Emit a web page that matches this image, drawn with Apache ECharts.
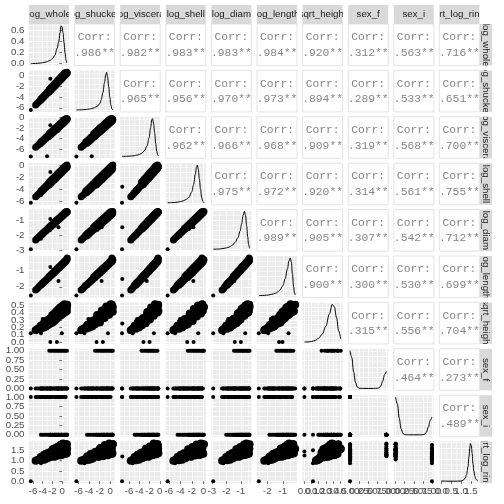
<!DOCTYPE html>
<html><head><meta charset="utf-8">
<script src="https://cdn.jsdelivr.net/npm/echarts@6/dist/echarts.min.js"></script>
<style>html,body{margin:0;padding:0;background:#fff}#c{width:504px;height:504px}</style>
</head><body><div id="c"></div>
<script>
// ---------- variable names ----------
const varNames = ['log_whole','log_shucked','log_viscera','log_shell','log_diam','log_length','sqrt_height','sex_f','sex_i','sqrt_log_rings'];

// ---------- representative observations (core band) ----------
const coreWhole = [-5.45,-5.1,-4.75,-4.4,-4.4,-4.05,-4.05,-3.7,-3.7,-3.35,-3.35,-3.0,-3.0,
 -2.65,-2.65,-2.65,-2.3,-2.3,-2.3,-1.95,-1.95,-1.95,-1.6,-1.6,-1.6,-1.3,-1.3,-1.3,-1.0,-1.0,-1.0,
 -0.7,-0.7,-0.7,-0.4,-0.4,-0.4,-0.1,-0.1,-0.1,0.2,0.2,0.2,0.5,0.5,0.5,0.75,0.75,0.75,1.0,1.0,1.05];
const coreShucked = [-5.50,-5.17,-4.85,-4.64,-4.40,-4.31,-4.07,-3.98,-3.74,-3.66,-3.42,-3.33,-3.09,
 -3.13,-2.63,-2.88,-2.80,-2.30,-2.55,-2.48,-1.98,-2.23,-2.15,-1.65,-1.90,-1.87,-1.37,-1.62,-1.59,-1.09,-1.34,
 -1.31,-0.81,-1.06,-1.02,-0.52,-0.77,-0.74,-0.24,-0.49,-0.46,0.04,-0.21,-0.18,0.32,0.07,0.05,0.45,0.30,0.40,0.47,0.30];
const coreViscera = [-5.68,-5.38,-5.09,-4.68,-4.92,-4.38,-4.62,-4.09,-4.33,-3.79,-4.03,-3.50,-3.74,
 -3.08,-3.33,-3.58,-2.78,-3.03,-3.28,-2.49,-2.74,-2.99,-2.19,-2.44,-2.69,-1.94,-2.19,-2.44,-1.69,-1.94,-2.19,
 -1.44,-1.69,-1.94,-1.19,-1.44,-1.69,-0.93,-1.18,-1.43,-0.68,-0.93,-1.18,-0.43,-0.68,-0.93,-0.30,-0.47,-0.72,-0.27,-0.45,-0.35];
const coreShell = [-5.20,-4.92,-4.64,-4.24,-4.48,-3.96,-4.20,-3.68,-3.92,-3.40,-3.64,-3.12,-3.36,
 -2.96,-3.21,-2.71,-2.68,-2.93,-2.43,-2.40,-2.65,-2.15,-2.12,-2.37,-1.87,-1.88,-2.13,-1.63,-1.64,-1.89,-1.39,
 -1.40,-1.65,-1.15,-1.16,-1.41,-0.91,-0.92,-1.17,-0.67,-0.68,-0.93,-0.43,-0.44,-0.69,-0.19,-0.24,-0.49,-0.02,-0.10,0.10,-0.25];
const coreDiam = [-2.29,-2.18,-2.08,-1.95,-2.01,-1.85,-1.91,-1.74,-1.80,-1.64,-1.70,-1.54,-1.60,
 -1.42,-1.52,-1.47,-1.31,-1.41,-1.36,-1.21,-1.31,-1.26,-1.11,-1.21,-1.16,-1.02,-1.12,-1.07,-0.93,-1.03,-0.98,
 -0.85,-0.95,-0.90,-0.76,-0.86,-0.81,-0.67,-0.77,-0.72,-0.58,-0.68,-0.63,-0.49,-0.59,-0.54,-0.42,-0.52,-0.47,-0.45,-0.40,-0.43];
const coreLength = [-2.20,-2.10,-1.98,-1.91,-1.87,-1.81,-1.77,-1.71,-1.67,-1.61,-1.57,-1.51,-1.47,
 -1.38,-1.34,-1.42,-1.28,-1.24,-1.32,-1.18,-1.14,-1.22,-1.08,-1.04,-1.12,-0.99,-0.95,-1.03,-0.90,-0.86,-0.94,
 -0.81,-0.77,-0.85,-0.73,-0.69,-0.77,-0.64,-0.60,-0.68,-0.55,-0.51,-0.59,-0.46,-0.42,-0.50,-0.39,-0.35,-0.43,-0.28,-0.32,-0.20];
const coreHeight = [0.16,0.175,0.19,0.18,0.22,0.235,0.195,0.195,0.265,0.28,0.21,0.225,0.295,
 0.275,0.31,0.24,0.255,0.29,0.325,0.365,0.265,0.315,0.335,0.385,0.285,0.305,0.355,0.405,0.425,0.325,0.375,
 0.395,0.445,0.345,0.355,0.41,0.465,0.48,0.37,0.425,0.44,0.495,0.385,0.40,0.455,0.51,0.50,0.41,0.465,0.42,0.475,0.505];
const coreSexF = [0,0,0,0,0,0,0,0,0,0,0,0,0,
 0,0,1,0,0,1,0,0,1,0,0,1,0,0,1,0,0,1,0,0,1,0,0,1,0,0,1,0,0,1,0,0,1,0,0,1,0,1,0];
const coreSexI = [1,1,1,1,0,1,0,1,0,1,0,1,0,
 1,0,0,1,0,0,1,0,0,1,0,0,1,0,0,1,0,0,1,0,0,1,0,0,1,0,0,1,0,0,1,0,0,1,0,0,0,0,0];
const coreRings = [1.00,1.03,1.07,1.02,1.18,1.22,1.06,1.05,1.29,1.33,1.09,1.12,1.36,
 1.16,1.28,1.40,1.43,1.19,1.31,1.35,1.55,1.22,1.19,1.39,1.59,1.62,1.22,1.42,1.46,1.66,1.26,
 1.29,1.49,1.69,1.76,1.26,1.51,1.53,1.78,1.28,1.31,1.56,1.835,1.74,1.33,1.58,1.59,1.80,1.34,1.36,1.80,1.58];

// ---------- isolated observations ----------
const outWhole   = [-6.45,-4.35,-3.1,-2.42,-2.42,-1.07,-0.05,-4.0,-0.74];
const outShucked = [-6.4,-4.9,-3.5,-0.7,-2.6,-1.4,-0.45,-4.15,-1.64];
const outViscera = [-7.4,-5.3,-7.35,-1.5,-3.2,-2.0,-1.15,-4.45,-2.55];
const outShell   = [-6.2,-4.9,-3.5,-1.05,-2.8,-1.7,-0.9,-4.05,-1.75];
const outDiam    = [-2.9,-2.2,-1.45,-0.9,-1.42,-1.0,-0.7,-1.87,-1.45];
const outLength  = [-2.55,-1.95,-1.52,-0.76,-1.24,-1.02,-0.63,-1.78,-1.64];
const outHeight  = [0.12,0.12,0.25,0.38,0,0,0.12,0.31,0.33];
const outSexF    = [0,0,0,0,0,0,0,0,0];
const outSexI    = [1,1,1,0,1,0,0,1,1];
const outRings   = [0,0.87,1.2,1.5,1.25,1.45,1.5,1.1,1.4];

// ---------- diagonal densities ----------
const densWholeX = [-6.45,-5.5,-5.0,-4.5,-4.0,-3.5,-3.0,-2.5,-2.0,-1.5,-1.0,-0.7,-0.4,-0.2,0.0,0.2,0.4,0.6,0.8,1.0,1.05];
const densWholeY = [0.002,0.005,0.008,0.012,0.018,0.027,0.04,0.06,0.09,0.15,0.28,0.40,0.56,0.68,0.66,0.55,0.38,0.2,0.07,0.015,0.01];
const densShuckedX = [-6.4,-5.5,-5.0,-4.5,-4.0,-3.5,-3.0,-2.5,-2.0,-1.7,-1.4,-1.1,-0.85,-0.7,-0.5,-0.3,-0.1,0.1,0.3,0.47];
const densShuckedY = [0.002,0.005,0.008,0.012,0.02,0.03,0.045,0.07,0.12,0.2,0.33,0.52,0.68,0.72,0.62,0.45,0.25,0.1,0.025,0.005];
const densVisceraX = [-7.4,-6.5,-5.5,-5.0,-4.5,-4.0,-3.5,-3.0,-2.5,-2.1,-1.8,-1.55,-1.4,-1.2,-1.0,-0.8,-0.6,-0.4,-0.27];
const densVisceraY = [0.002,0.004,0.01,0.015,0.025,0.04,0.065,0.11,0.2,0.35,0.55,0.7,0.72,0.62,0.45,0.25,0.1,0.03,0.01];
const densShellX = [-6.2,-5.5,-5.0,-4.5,-4.0,-3.5,-3.0,-2.5,-2.0,-1.7,-1.4,-1.2,-1.05,-0.9,-0.7,-0.5,-0.3,-0.1,0.1];
const densShellY = [0.002,0.005,0.009,0.015,0.025,0.04,0.065,0.11,0.22,0.36,0.56,0.7,0.74,0.66,0.47,0.27,0.11,0.03,0.005];
const densDiamX = [-2.9,-2.6,-2.3,-2.0,-1.8,-1.6,-1.4,-1.2,-1.05,-0.95,-0.85,-0.75,-0.68,-0.6,-0.53,-0.47,-0.4];
const densDiamY = [0.005,0.01,0.03,0.07,0.12,0.2,0.35,0.6,0.95,1.3,1.75,1.95,1.75,1.2,0.65,0.25,0.05];
const densLengthX = [-2.55,-2.2,-1.9,-1.6,-1.4,-1.2,-1.0,-0.85,-0.7,-0.6,-0.52,-0.45,-0.38,-0.3,-0.25,-0.2];
const densLengthY = [0.005,0.015,0.04,0.09,0.15,0.27,0.5,0.85,1.35,1.75,1.9,1.7,1.1,0.45,0.15,0.04];
const densHeightX = [0,0.05,0.1,0.15,0.2,0.25,0.3,0.35,0.39,0.42,0.45,0.48,0.51];
const densHeightY = [0.02,0.03,0.08,0.2,0.45,0.9,1.8,3.2,4.3,4.0,2.8,1.3,0.35];
const densSexFX = [0,0.05,0.1,0.15,0.2,0.25,0.3,0.35,0.5,0.65,0.7,0.75,0.8,0.85,0.9,0.95,1];
const densSexFY = [3.53,2.87,1.55,0.56,0.13,0.02,0.003,0,0,0,0.001,0.009,0.059,0.25,0.70,1.29,1.59];
const densSexIX = [0,0.05,0.1,0.15,0.2,0.25,0.3,0.35,0.5,0.65,0.7,0.75,0.8,0.85,0.9,0.95,1];
const densSexIY = [3.48,2.83,1.53,0.55,0.13,0.02,0.003,0,0,0,0.001,0.01,0.06,0.26,0.72,1.33,1.64];
const densRingsX = [0,0.4,0.83,1.0,1.1,1.2,1.28,1.35,1.4,1.45,1.48,1.52,1.56,1.6,1.65,1.7,1.75,1.8,1.835];
const densRingsY = [0.02,0.0,0.005,0.02,0.08,0.25,0.6,1.3,2.2,3.1,3.4,3.2,2.5,1.6,0.9,0.45,0.2,0.08,0.04];

// ---------- correlations (upper triangle, row by row) ----------
const corrWhole   = [0.986,0.982,0.983,0.983,0.984,0.920,0.312,-0.563,0.716];
const corrShucked = [0.965,0.956,0.970,0.973,0.894,0.289,-0.533,0.651];
const corrViscera = [0.962,0.966,0.968,0.909,0.319,-0.568,0.700];
const corrShell   = [0.975,0.972,0.920,0.314,-0.561,0.755];
const corrDiam    = [0.989,0.905,0.307,-0.542,0.712];
const corrLength  = [0.900,0.300,-0.530,0.699];
const corrHeight  = [0.315,-0.556,0.704];
const corrSexF    = [-0.464,0.273];
const corrSexI    = [-0.489];

// ---------- tick breaks ----------
const breaksWhole = [-6,-4,-2,0],   minorWhole = [-7,-5,-3,-1,1];
const breaksShucked = [-6,-4,-2,0], minorShucked = [-7,-5,-3,-1];
const breaksViscera = [-6,-4,-2,0], minorViscera = [-7,-5,-3,-1];
const breaksShell = [-6,-4,-2,0],   minorShell = [-7,-5,-3,-1];
const breaksDiam = [-3,-2,-1],      minorDiam = [-2.5,-1.5,-0.5];
const breaksLength = [-2,-1],       minorLength = [-2.5,-1.5,-0.5];
const breaksHeight = [0,0.1,0.2,0.3,0.4,0.5], minorHeight = [0.05,0.15,0.25,0.35,0.45];
const breaksSex = [0,0.25,0.5,0.75,1], minorSex = [0.125,0.375,0.625,0.875];
const breaksRings = [0,0.5,1,1.5],  minorRings = [0.25,0.75,1.25,1.75];
const breaksDensWhole = [0,0.2,0.4,0.6];

// ---------- build ----------
const vars = [
  {core:coreWhole,  out:outWhole,  br:breaksWhole,  mi:minorWhole,  dg:0, dx:densWholeX,  dy:densWholeY},
  {core:coreShucked,out:outShucked,br:breaksShucked,mi:minorShucked,dg:0, dx:densShuckedX,dy:densShuckedY},
  {core:coreViscera,out:outViscera,br:breaksViscera,mi:minorViscera,dg:0, dx:densVisceraX,dy:densVisceraY},
  {core:coreShell,  out:outShell,  br:breaksShell,  mi:minorShell,  dg:0, dx:densShellX,  dy:densShellY},
  {core:coreDiam,   out:outDiam,   br:breaksDiam,   mi:minorDiam,   dg:0, dx:densDiamX,   dy:densDiamY},
  {core:coreLength, out:outLength, br:breaksLength, mi:minorLength, dg:0, dx:densLengthX, dy:densLengthY},
  {core:coreHeight, out:outHeight, br:breaksHeight, mi:minorHeight, dg:1, dx:densHeightX, dy:densHeightY},
  {core:coreSexF,   out:outSexF,   br:breaksSex,    mi:minorSex,    dg:2, dx:densSexFX,   dy:densSexFY},
  {core:coreSexI,   out:outSexI,   br:breaksSex,    mi:minorSex,    dg:2, dx:densSexIX,   dy:densSexIY},
  {core:coreRings,  out:outRings,  br:breaksRings,  mi:minorRings,  dg:1, dx:densRingsX,  dy:densRingsY}
];
const corrRows = [corrWhole,corrShucked,corrViscera,corrShell,corrDiam,corrLength,corrHeight,corrSexF,corrSexI];

vars.forEach(v => {
  const all = v.core.concat(v.out);
  const lo = Math.min(...all), hi = Math.max(...all), p = (hi - lo) * 0.05;
  v.min = lo - p; v.max = hi + p;
});

const X0 = 29, DX = 45.6, PW = 40, Y0 = 24, DY = 46.4, PH = 41.5;
const FONT = "'Liberation Sans', Arial, sans-serif";
const inRange = (a, lo, hi) => a.filter(v => v >= lo - 1e-9 && v <= hi + 1e-9);
function niceBreaks(lo, hi) {
  const rough = (hi - lo) / 4;
  const mag = Math.pow(10, Math.floor(Math.log10(rough)));
  const n = rough / mag;
  const step = (n < 1.5 ? 1 : n < 2.25 ? 2 : n < 3.5 ? 2.5 : n < 7.5 ? 5 : 10) * mag;
  const out = [];
  for (let v = Math.ceil(lo / step) * step; v <= hi + 1e-9; v += step) out.push(+v.toFixed(10));
  return {major: out, step};
}
function minorsFrom(major, step, lo, hi) {
  const m = [];
  for (let v = major[0] - step / 2; v <= hi; v += step) if (v >= lo) m.push(+v.toFixed(10));
  return m;
}

const option = {animation:false, backgroundColor:'#ffffff', grid:[], xAxis:[], yAxis:[], series:[]};

function labelStyle(vals, digits, isX) {
  return {show:true, customValues:vals, formatter:v => Number(v).toFixed(digits),
    interval:0, hideOverlap:false, showMinLabel:true, showMaxLabel:true,
    fontSize:9.7, color:'#4D4D4D', fontFamily:FONT, margin: isX ? 3.5 : 4.5};
}
// returns index of the main axis for this grid/dimension
function buildAxes(list, dim, g, lo, hi, major, minor, showLab, digits, gridOn) {
  const isX = dim === 'x';
  const side = isX ? 'bottom' : 'left';
  const groups = [[], [], []];
  major.forEach((v, k) => groups[k % 3].push(v));
  const mainIdx = list.length;
  list.push({
    gridIndex:g, type:'value', min:lo, max:hi, show:gridOn || showLab, position:side,
    axisLine:{show:false},
    axisTick:{show:showLab, customValues:major, length:2.75, lineStyle:{color:'#333333', width:0.7}},
    axisLabel: showLab ? labelStyle(groups[0], digits, isX) : {show:false},
    splitLine:{show:gridOn, lineStyle:{color:'#FFFFFF', width:1.1}}
  });
  list.push({
    gridIndex:g, type:'value', min:lo, max:hi, show:gridOn, position: isX ? 'top' : 'right',
    axisLine:{show:false}, axisTick:{show:false, customValues:minor}, axisLabel:{show:false},
    splitLine:{show:gridOn, lineStyle:{color:'#FFFFFF', width:0.55}}
  });
  if (showLab) {
    for (let q = 1; q < 3; q++) {
      if (!groups[q].length) continue;
      list.push({
        gridIndex:g, type:'value', min:lo, max:hi, show:true, position:side,
        axisLine:{show:false}, axisTick:{show:false, customValues:groups[q]},
        axisLabel:labelStyle(groups[q], digits, isX), splitLine:{show:false}
      });
    }
  }
  return mainIdx;
}

function corrRenderer(val) {
  const txt = (val < 0 ? '-' : '') + Math.abs(val).toFixed(3) + '***';
  return function (params, api) {
    const cs = params.coordSys, cx = cs.x + cs.width / 2, cy = cs.y + cs.height / 2;
    const st = (t) => ({text:t, fill:'#858585', fontSize:11.3, fontFamily:"'Liberation Mono', 'DejaVu Sans Mono', monospace",
      align:'center', verticalAlign:'middle', textAlign:'center', textVerticalAlign:'middle'});
    return {type:'group', children:[
      {type:'text', x:cx, y:cy - 7.5, style:st('Corr:')},
      {type:'text', x:cx - (val < 0 ? 3 : 0), y:cy + 8, style:st(txt)}
    ]};
  };
}
function stripRenderer(label, vertical) {
  return function (params, api) {
    const cs = params.coordSys;
    return {type:'text', x:cs.x + cs.width / 2, y:cs.y + cs.height / 2, rotation: vertical ? -Math.PI / 2 : 0,
      style:{text:label, fill:'#1A1A1A', fontSize:9.7, fontFamily:FONT,
        align:'center', verticalAlign:'middle', textAlign:'center', textVerticalAlign:'middle'}};
  };
}

for (let i = 0; i < 10; i++) {
  for (let j = 0; j < 10; j++) {
    const g = option.grid.length, upper = i < j, diag = i === j;
    option.grid.push({left:X0 + j * DX, top:Y0 + i * DY, width:PW, height:PH, show:true,
      backgroundColor: upper ? '#FFFFFF' : '#EBEBEB',
      borderColor: upper ? '#E3E3E3' : 'rgba(0,0,0,0)', borderWidth: upper ? 1 : 0, outerBoundsMode:'none'});
    const xv = vars[j];
    if (upper) {
      const xi = buildAxes(option.xAxis, 'x', g, 0, 1, [], [], false, 0, false);
      const yi = buildAxes(option.yAxis, 'y', g, 0, 1, [], [], false, 0, false);
      option.series.push({type:'custom', coordinateSystem:'cartesian2d', xAxisIndex:xi, yAxisIndex:yi,
        clip:true, silent:true, data:[[0.5, 0.5]], renderItem:corrRenderer(corrRows[i][j - i - 1])});
      continue;
    }
    const xMajor = inRange(xv.br, xv.min, xv.max), xMinor = inRange(xv.mi, xv.min, xv.max);
    const xi = buildAxes(option.xAxis, 'x', g, xv.min, xv.max, xMajor, xMinor, i === 9, xv.dg, true);
    let ylo, yhi, yMajor, yMinor, ydg;
    if (diag) {
      const dmax = Math.max(...xv.dy), dmin = Math.min(...xv.dy), r = dmax - dmin;
      ylo = dmin - 0.05 * r; yhi = dmax + 0.05 * r;
      let step;
      if (i === 0) { yMajor = breaksDensWhole; step = 0.2; }
      else { const nb = niceBreaks(ylo, yhi); yMajor = nb.major; step = nb.step; }
      yMinor = minorsFrom(yMajor, step, ylo, yhi); ydg = 1;
    } else {
      const yv = vars[i];
      ylo = yv.min; yhi = yv.max;
      yMajor = inRange(yv.br, ylo, yhi); yMinor = inRange(yv.mi, ylo, yhi); ydg = yv.dg;
    }
    const yi = buildAxes(option.yAxis, 'y', g, ylo, yhi, yMajor, yMinor, j === 0, ydg, true);
    if (diag) {
      option.series.push({type:'line', xAxisIndex:xi, yAxisIndex:yi, silent:true, clip:true,
        data: xv.dx.map((x, k) => [x, xv.dy[k]]), showSymbol:false, symbol:'none',
        smooth:0.35, smoothMonotone:'x', lineStyle:{color:'#000000', width:1}});
    } else {
      const yv = vars[i];
      const binary = (i === 7 || i === 8 || j === 7 || j === 8);
      const spread = (i === 6 || i === 9 || j === 6);
      option.series.push({type:'scatter', xAxisIndex:xi, yAxisIndex:yi, silent:true,
        data: xv.core.map((x, k) => [x, yv.core[k]]), symbolSize: binary ? 4 : (spread ? 8 : 7),
        itemStyle:{color:'#000000', opacity:1}});
      option.series.push({type:'scatter', xAxisIndex:xi, yAxisIndex:yi, silent:true,
        data: xv.out.map((x, k) => [x, yv.out[k]]), symbolSize:4,
        itemStyle:{color:'#000000', opacity:1}});
    }
  }
}

// strips
for (let k = 0; k < 10; k++) {
  let g = option.grid.length;
  option.grid.push({left:X0 + k * DX, top:5, width:PW, height:19, show:true, backgroundColor:'#D9D9D9',
    borderColor:'rgba(0,0,0,0)', borderWidth:0, outerBoundsMode:'none'});
  let xi = option.xAxis.length, yi = option.yAxis.length;
  option.xAxis.push({gridIndex:g, type:'value', min:0, max:1, show:false});
  option.yAxis.push({gridIndex:g, type:'value', min:0, max:1, show:false});
  option.series.push({type:'custom', coordinateSystem:'cartesian2d', xAxisIndex:xi, yAxisIndex:yi,
    clip:true, silent:true, data:[[0.5, 0.5]], renderItem:stripRenderer(varNames[k], false)});
  g = option.grid.length;
  option.grid.push({left:480, top:Y0 + k * DY, width:12, height:PH, show:true, backgroundColor:'#D9D9D9',
    borderColor:'rgba(0,0,0,0)', borderWidth:0, outerBoundsMode:'none'});
  xi = option.xAxis.length; yi = option.yAxis.length;
  option.xAxis.push({gridIndex:g, type:'value', min:0, max:1, show:false});
  option.yAxis.push({gridIndex:g, type:'value', min:0, max:1, show:false});
  option.series.push({type:'custom', coordinateSystem:'cartesian2d', xAxisIndex:xi, yAxisIndex:yi,
    clip:true, silent:true, data:[[0.5, 0.5]], renderItem:stripRenderer(varNames[k], true)});
}

const chart = echarts.init(document.getElementById('c'), null, {renderer:'canvas', width:504, height:504});
chart.setOption(option);
</script>
</body></html>
